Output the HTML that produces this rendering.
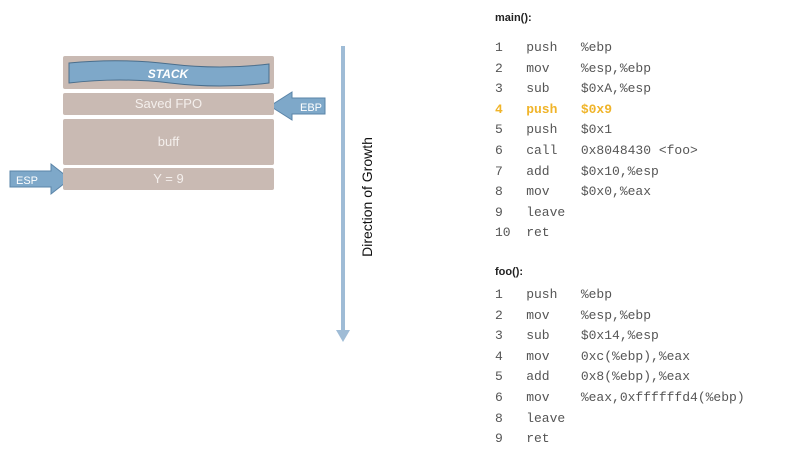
<!DOCTYPE html>
<html><head><style>
body{margin:0;width:800px;height:467px;background:#fff;position:relative;overflow:hidden;font-family:"Liberation Sans",sans-serif}
.b{position:absolute;left:63px;width:211px;background:#c9bab3;border-radius:2px;color:#f4efec;font-size:13px;text-align:center}
.c{position:absolute;font-family:"Liberation Mono",monospace;font-size:13px;color:#555;white-space:pre}
.h{position:absolute;font-size:11px;font-weight:bold;color:#222}
</style></head><body>
<div class="b" style="top:56px;height:33px"></div>
<svg style="position:absolute;left:0;top:0" width="800" height="467">
<path d="M69 63 Q120 58 170 64 Q220 70 269 64 L269 83 Q220 89 170 83 Q120 77 69 83 Z" fill="#7ea8c9" stroke="#4a6e8c" stroke-width="1"/>
<text x="168" y="78" text-anchor="middle" font-family="Liberation Sans" font-size="12" font-weight="bold" font-style="italic" fill="#fff">STACK</text>
<path d="M325 98 L292 98 L292 92 L270 106 L292 120 L292 114 L325 114 Z" fill="#7ea8c9" stroke="#5a84a8"/>
<text x="300" y="111" font-family="Liberation Sans" font-size="11" fill="#fff">EBP</text>
<path d="M10 171 L51 171 L51 164 L70 179 L51 194 L51 187 L10 187 Z" fill="#7ea8c9" stroke="#5a84a8"/>
<text x="16" y="184" font-family="Liberation Sans" font-size="11" fill="#fff">ESP</text>
<rect x="341" y="46" width="4" height="288" fill="#9fbcd6"/>
<path d="M336 330 L343 342 L350 330 Z" fill="#9fbcd6"/>
<text transform="translate(372,197) rotate(-90)" text-anchor="middle" font-family="Liberation Sans" font-size="14" fill="#111">Direction of Growth</text>
</svg>
<div class="b" style="top:93px;height:22px;line-height:22px">Saved FPO</div>
<div class="b" style="top:119px;height:46px;line-height:46px">buff</div>
<div class="b" style="top:168px;height:22px;line-height:22px">Y = 9</div>
<div class="h" style="left:495px;top:12px">main():</div>
<div class="c" style="left:495px;top:38px;line-height:20.6px">1   push   %ebp
2   mov    %esp,%ebp
3   sub    $0xA,%esp
<b style="color:#f0b429">4   push   $0x9</b>
5   push   $0x1
6   call   0x8048430 &lt;foo&gt;
7   add    $0x10,%esp
8   mov    $0x0,%eax
9   leave
10  ret</div>
<div class="h" style="left:495px;top:266px">foo():</div>
<div class="c" style="left:495px;top:285px;line-height:20.6px">1   push   %ebp
2   mov    %esp,%ebp
3   sub    $0x14,%esp
4   mov    0xc(%ebp),%eax
5   add    0x8(%ebp),%eax
6   mov    %eax,0xffffffd4(%ebp)
8   leave
9   ret</div>
</body></html>
